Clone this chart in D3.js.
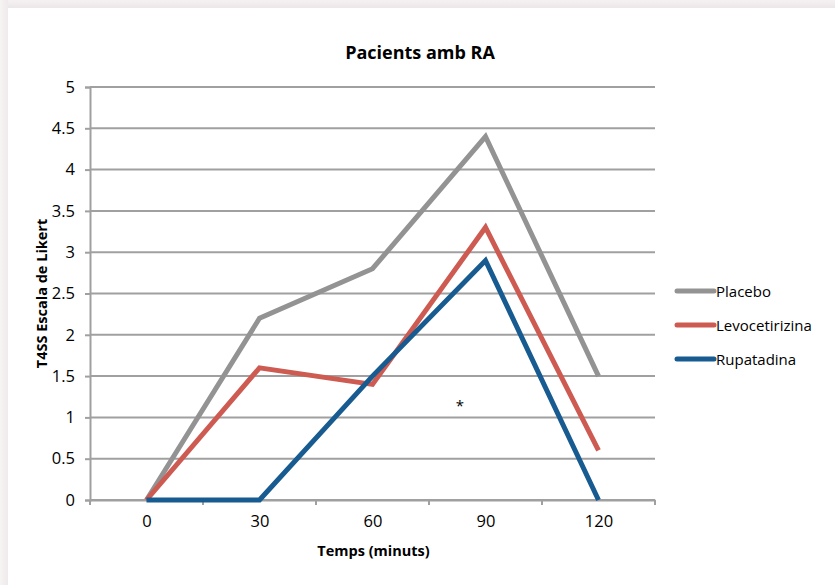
<!DOCTYPE html>
<html>
<head>
<meta charset="utf-8">
<script src="https://cdn.jsdelivr.net/npm/d3@7"></script>
<style>
  body { margin: 0; background: #fff; }
  svg text { font-family: "Open Sans", "Noto Sans", sans-serif; fill: #000; }
</style>
</head>
<body>
<svg width="835" height="585"></svg>
<script>
const categories = [0, 30, 60, 90, 120];
const yTicks = [0, 0.5, 1, 1.5, 2, 2.5, 3, 3.5, 4, 4.5, 5];
const seriesNames = ["Placebo", "Levocetirizina", "Rupatadina"];
const placebo = [0, 2.2, 2.8, 4.4, 1.5];
const levocetirizina = [0, 1.6, 1.4, 3.3, 0.6];
const rupatadina = [0, 0, 1.5, 2.9, 0];
const colors = ["#939393", "#cd5b52", "#175b90"];

const svg = d3.select("svg");

// frame shadow on top and left
const defs = svg.append("defs");
const gTop = defs.append("linearGradient").attr("id", "gTop").attr("x1", 0).attr("x2", 0).attr("y1", 0).attr("y2", 1);
gTop.append("stop").attr("offset", "0%").attr("stop-color", "#f5f1f2");
gTop.append("stop").attr("offset", "100%").attr("stop-color", "#ece6e7");
const gLeft = defs.append("linearGradient").attr("id", "gLeft").attr("x1", 0).attr("x2", 1).attr("y1", 0).attr("y2", 0);
gLeft.append("stop").attr("offset", "0%").attr("stop-color", "#f7f4f4");
gLeft.append("stop").attr("offset", "100%").attr("stop-color", "#eee9ea");
svg.append("rect").attr("x", 0).attr("y", 0).attr("width", 835).attr("height", 8).attr("fill", "url(#gTop)");
svg.append("rect").attr("x", 0).attr("y", 0).attr("width", 8).attr("height", 585).attr("fill", "url(#gLeft)");

const plot = { left: 90, right: 655, top: 87, bottom: 500 };

const x = d3.scalePoint().domain(categories).range([plot.left, plot.right]).padding(0.5);
const y = d3.scaleLinear().domain([0, 5]).range([plot.bottom, plot.top]);

// gridlines
svg.append("g")
  .selectAll("line")
  .data(yTicks)
  .enter().append("line")
  .attr("x1", plot.left).attr("x2", plot.right)
  .attr("y1", d => y(d)).attr("y2", d => y(d))
  .attr("stroke", "#a0a0a0").attr("stroke-width", 2);

// y axis
const yAxis = svg.append("g")
  .attr("transform", `translate(${plot.left},0)`)
  .call(d3.axisLeft(y).tickValues(yTicks).tickSize(5).tickPadding(10).tickFormat(d => d));
yAxis.select(".domain").attr("stroke", "#a0a0a0").attr("stroke-width", 2);
yAxis.selectAll(".tick line").attr("stroke", "#a0a0a0").attr("stroke-width", 2);
yAxis.selectAll(".tick text").attr("font-size", 16.5).style("font-family", "'Open Sans', sans-serif");

// x axis
const step = x.step();
const xAxis = svg.append("g")
  .attr("transform", `translate(0,${plot.bottom})`)
  .call(d3.axisBottom(x).tickSize(0).tickPadding(15));
xAxis.select(".domain").attr("stroke", "#a0a0a0").attr("stroke-width", 2);
xAxis.selectAll(".tick text").attr("font-size", 16.5).style("font-family", "'Open Sans', sans-serif");
xAxis.append("g")
  .selectAll("line")
  .data(d3.range(categories.length + 1))
  .enter().append("line")
  .attr("x1", i => plot.left + i * step).attr("x2", i => plot.left + i * step)
  .attr("y1", 0).attr("y2", 5)
  .attr("stroke", "#a0a0a0").attr("stroke-width", 2);

// lines
const allSeries = [placebo, levocetirizina, rupatadina];
const line = d3.line().x((d, i) => x(categories[i])).y(d => y(d));
svg.append("g")
  .selectAll("path")
  .data(allSeries)
  .enter().append("path")
  .attr("d", d => line(d))
  .attr("fill", "none")
  .attr("stroke", (d, i) => colors[i])
  .attr("stroke-width", 5)
  .attr("stroke-linejoin", "miter");

// asterisk
svg.append("text")
  .attr("x", (x(60) + x(90)) / 2 + 31).attr("y", y(1.1) + 2)
  .attr("text-anchor", "middle").attr("font-size", 15)
  .text("*");

// title and axis labels
svg.append("text")
  .attr("x", 420).attr("y", 59)
  .attr("text-anchor", "middle").attr("font-size", 18).attr("font-weight", "bold")
  .text("Pacients amb RA");
svg.append("text")
  .attr("x", (plot.left + plot.right) / 2 + 1).attr("y", 556)
  .attr("text-anchor", "middle").attr("font-size", 14.5).attr("font-weight", "bold")
  .text("Temps (minuts)");
svg.append("text")
  .attr("transform", `translate(47,${(plot.top + plot.bottom) / 2}) rotate(-90)`)
  .attr("text-anchor", "middle").attr("font-size", 14.5).attr("font-weight", "bold")
  .text("T4SS Escala de Likert");

// legend
const legend = svg.append("g")
  .selectAll("g")
  .data(seriesNames)
  .enter().append("g")
  .attr("transform", (d, i) => `translate(677,${291 + i * 34})`);
legend.append("line")
  .attr("x1", 0).attr("x2", 37).attr("y1", 0).attr("y2", 0)
  .attr("stroke", (d, i) => colors[i]).attr("stroke-width", 5).attr("stroke-linecap", "round");
legend.append("text")
  .attr("x", 39).attr("y", 6).attr("font-size", 15)
  .text(d => d);
</script>
</body>
</html>
